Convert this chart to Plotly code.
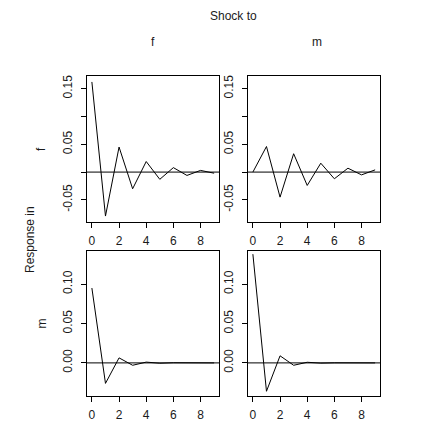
import plotly.graph_objects as go

horizon = [0, 1, 2, 3, 4, 5, 6, 7, 8, 9]
resp_f_to_f = [0.162, -0.079, 0.045, -0.030, 0.019, -0.013, 0.008, -0.006, 0.003, -0.002]
resp_m_to_f = [0.0, 0.046, -0.045, 0.033, -0.024, 0.016, -0.012, 0.007, -0.005, 0.004]
resp_f_to_m = [0.095, -0.026, 0.0064, -0.003, 0.001, -0.0004, 0.0002, -0.0001, 0.0, 0.0]
resp_m_to_m = [0.138, -0.036, 0.009, -0.003, 0.0008, -0.0003, 0.0001, 0.0, 0.0, 0.0]

shock_names = ["f", "m"]
response_names = ["f", "m"]
xticks = [0, 2, 4, 6, 8]
top_yticks = [-0.05, 0.0, 0.05, 0.10, 0.15]
top_yticklabels = ["-0.05", "", "0.05", "", "0.15"]
bot_yticks = [0.0, 0.05, 0.10]
bot_yticklabels = ["0.00", "0.05", "0.10"]

W, H = 430, 423
font = "Liberation Sans, Arial, sans-serif"
txtcol = "#1a1a1a"

def px_x(a, b):
    return [a / W, b / W]

def px_y(top, bottom):
    return [1 - bottom / H, 1 - top / H]

L1, R1, L2, R2 = 79, 211, 240, 372
T1, B1, T2, B2 = 68, 214, 243, 388

panels = [
    (resp_f_to_f, px_x(L1, R1), px_y(T1, B1), 0),
    (resp_m_to_f, px_x(L2, R2), px_y(T1, B1), 0),
    (resp_f_to_m, px_x(L1, R1), px_y(T2, B2), 1),
    (resp_m_to_m, px_x(L2, R2), px_y(T2, B2), 1),
]

fig = go.Figure()
layout = dict(
    width=W, height=H,
    margin=dict(l=0, r=0, t=0, b=0),
    paper_bgcolor="white", plot_bgcolor="white",
    showlegend=False,
    font=dict(family=font, size=12, color=txtcol),
)

top_rng = [-0.0897, 0.1727]
bot_rng = [-0.042, 0.142]
xr = [-0.36, 9.36]

for i, (vals, xd, yd, row) in enumerate(panels):
    n = "" if i == 0 else str(i + 1)
    fig.add_trace(go.Scatter(x=horizon, y=vals, mode="lines",
                             line=dict(color="black", width=1),
                             xaxis="x" + n, yaxis="y" + n, hoverinfo="skip"))
    fig.add_trace(go.Scatter(x=xr, y=[0, 0], mode="lines",
                             line=dict(color="black", width=1),
                             xaxis="x" + n, yaxis="y" + n, hoverinfo="skip"))
    common = dict(showline=True, linecolor="black", linewidth=1, mirror=True,
                  showgrid=False, zeroline=False, ticks="outside", ticklen=5,
                  tickcolor="black", tickwidth=1,
                  tickfont=dict(family=font, size=12, color=txtcol))
    layout["xaxis" + n] = dict(common, domain=xd, range=xr, tickmode="array",
                               tickvals=xticks, ticktext=[str(t) for t in xticks],
                               anchor="y" + n, ticklabelstandoff=3)
    if row == 0:
        tv, tt, rng = top_yticks, top_yticklabels, top_rng
    else:
        tv, tt, rng = bot_yticks, bot_yticklabels, bot_rng
    layout["yaxis" + n] = dict(common, domain=yd, range=rng, tickmode="array",
                               tickvals=tv, ticktext=tt, tickangle=-90,
                               anchor="x" + n, ticklabelstandoff=4)

fig.update_layout(**layout)

ann = []
def text(x, y, s, angle=0, size=12):
    ann.append(dict(x=x / W, y=1 - y / H, xref="paper", yref="paper", text=s,
                    showarrow=False, textangle=angle, xanchor="center", yanchor="middle",
                    font=dict(family=font, size=size, color=txtcol)))

text((L1 + R2) / 2, 8, "Shock to")
text((L1 + R1) / 2, 34, shock_names[0])
text((L2 + R2) / 2 + 3, 34, shock_names[1])
text(22, 232, "Response in", angle=-90)
text(33, (T1 + B1) / 2, response_names[0], angle=-90)
text(33, (T2 + B2) / 2, response_names[1], angle=-90)
fig.update_layout(annotations=ann)

fig.write_html("out.html")
